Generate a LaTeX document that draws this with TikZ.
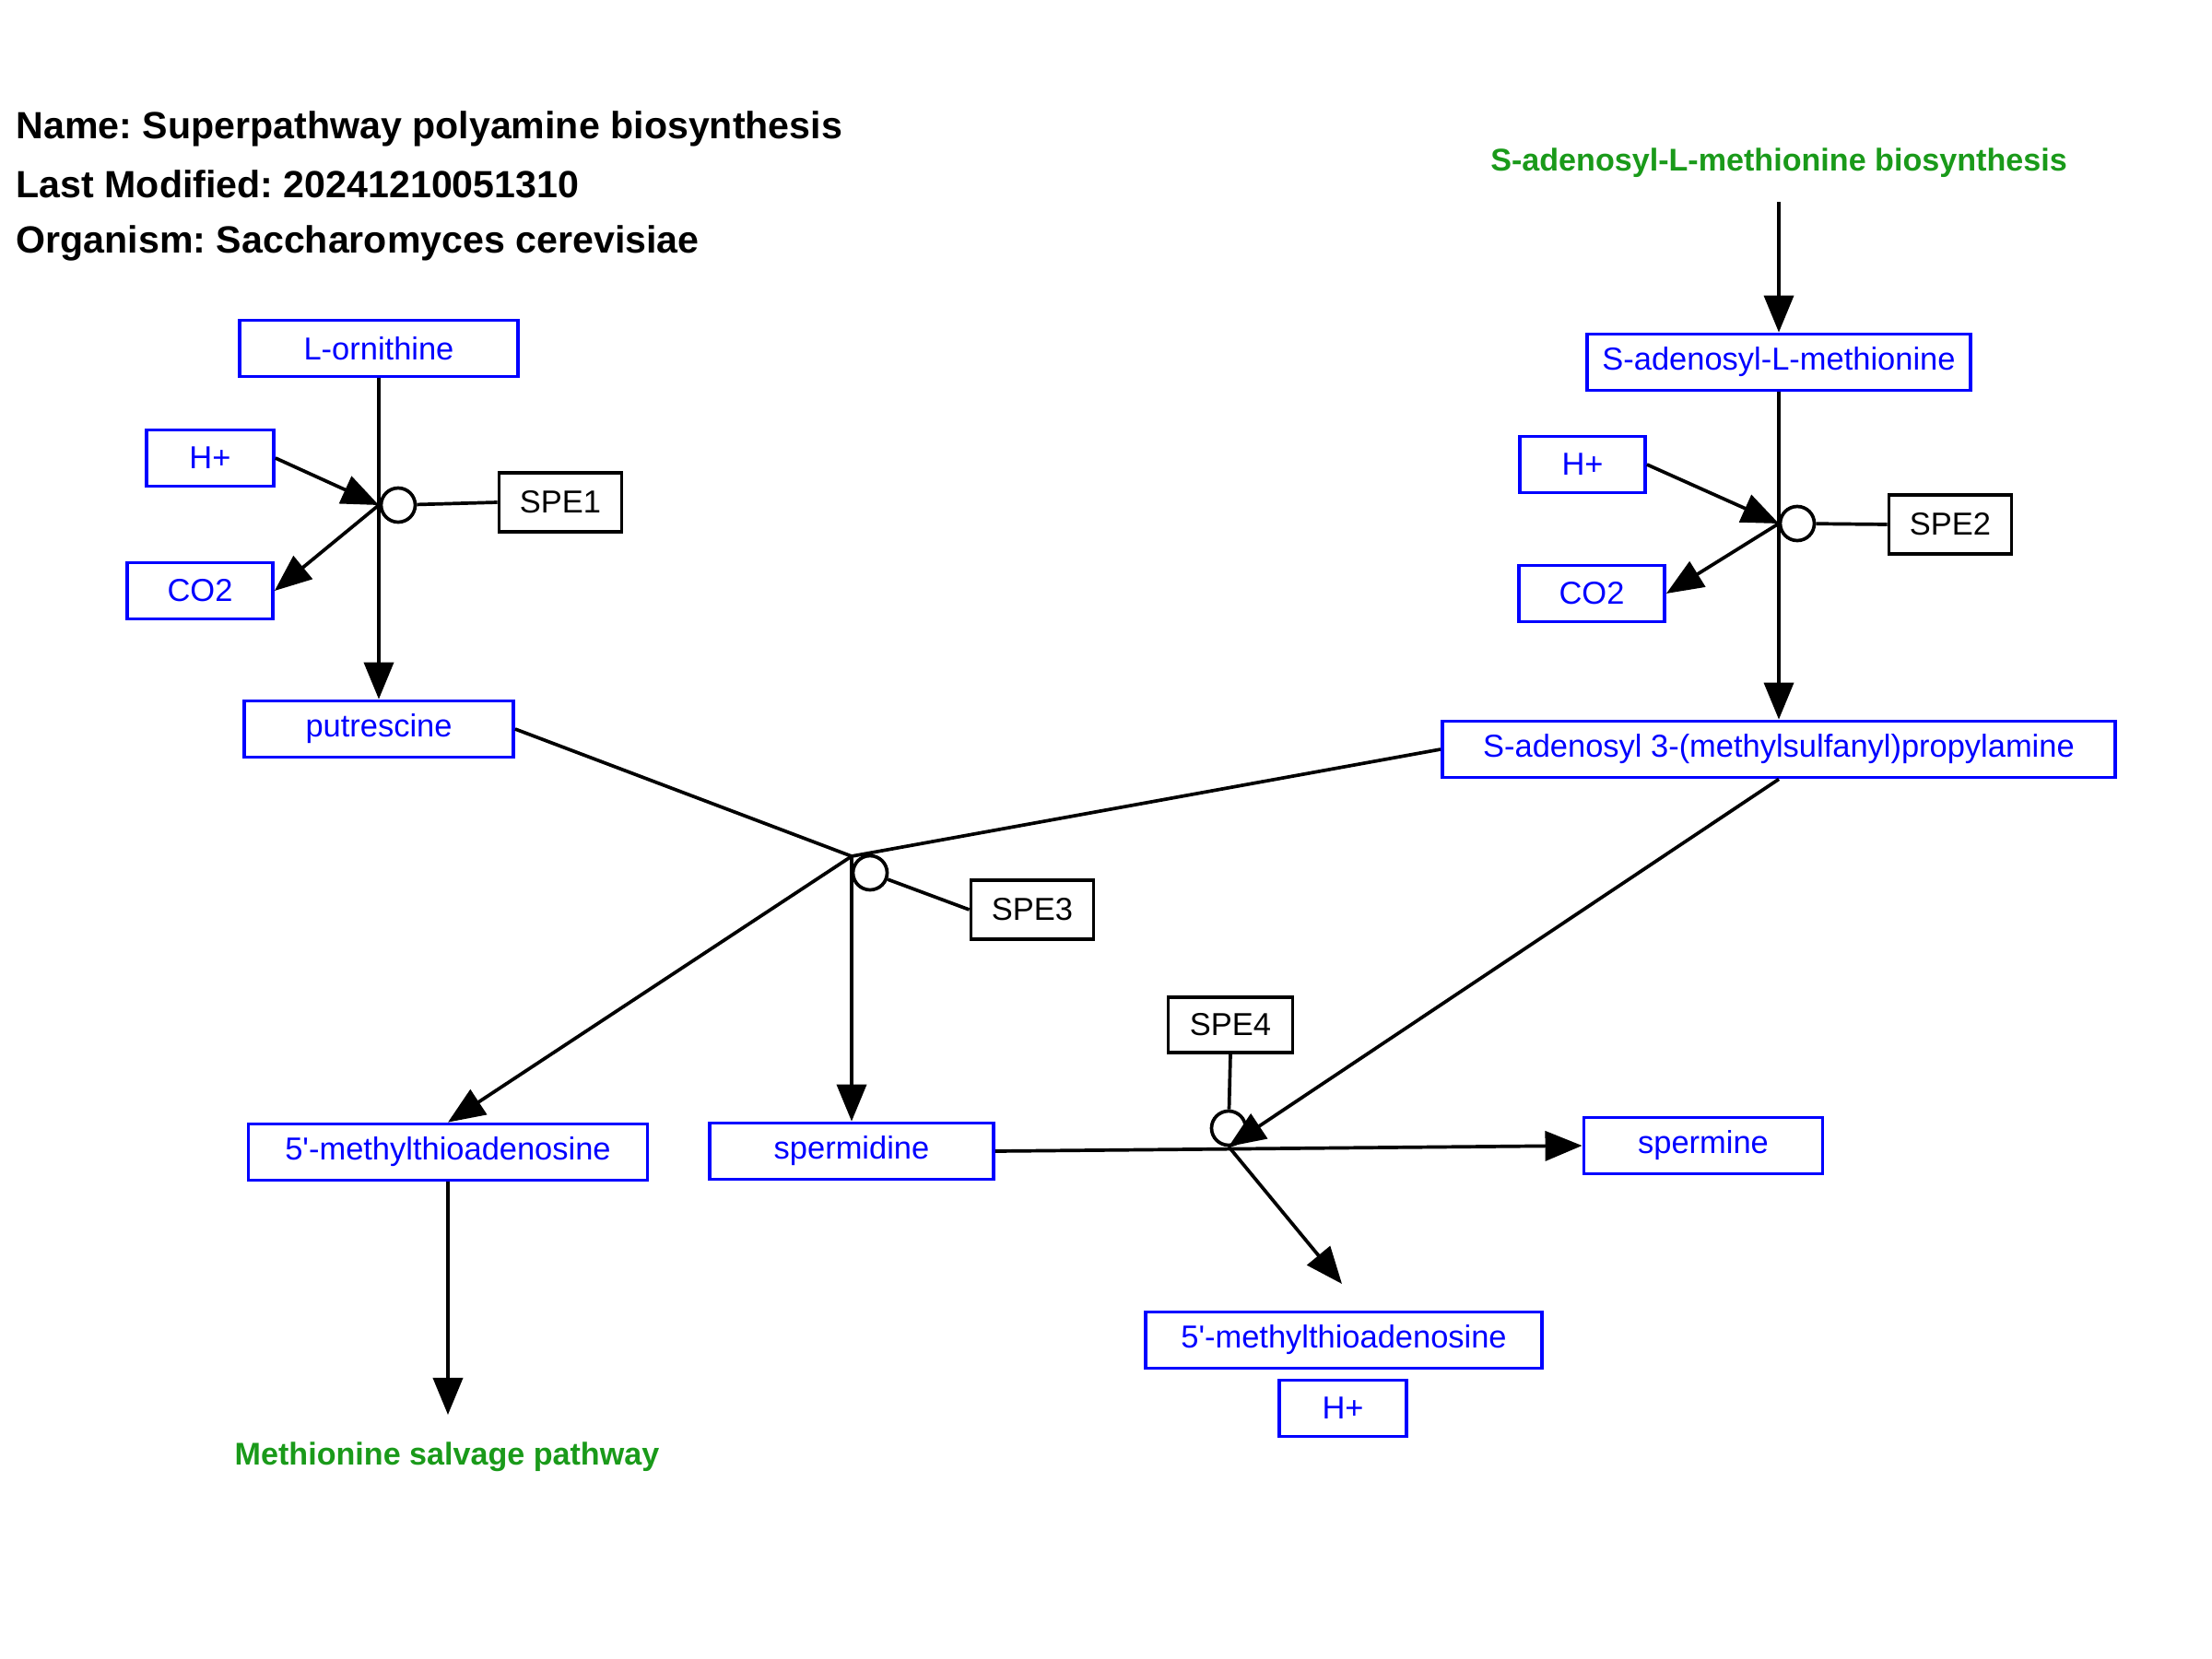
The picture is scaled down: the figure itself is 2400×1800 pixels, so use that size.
\documentclass[tikz,border=0pt]{standalone}
\usepackage{fontspec}
\setmainfont{Liberation Sans}
\usetikzlibrary{positioning,arrows.meta}
\definecolor{MetBlue}{HTML}{0000FF}
\definecolor{PathGreen}{HTML}{1A9A1A}
\frenchspacing
\tikzset{
  metnode/.style={draw=MetBlue,line width=0.037cm,text=MetBlue,
    minimum height=0.61cm,inner sep=0pt,
    font=\fontsize{9.8}{11}\selectfont},
  genenode/.style={draw=black,line width=0.037cm,
    minimum width=1.33cm,minimum height=0.64cm,inner sep=0pt,
    font=\fontsize{9.8}{11}\selectfont},
  anchornode/.style={draw=black,circle,line width=0.037cm,
    minimum size=0.37cm,inner sep=0pt},
  pathlabel/.style={text=PathGreen,inner sep=0pt,
    font=\fontsize{9.7}{11}\selectfont\bfseries},
  infolabel/.style={anchor=west,inner sep=0pt,
    font=\fontsize{11.7}{14}\selectfont\bfseries},
  edgeC/.style={line width=0.037cm,-{Triangle[length=0.40cm,width=0.32cm]}},
  edgeP/.style={line width=0.037cm},
}
\begin{document}
\begin{tikzpicture}[x=0.01cm,y=-0.01cm]
  \useasboundingbox (0,0) rectangle (2400,1800);
  \node[infolabel] (name) at (17,140) {Name: Superpathway polyamine biosynthesis};
  \node[infolabel] (modif) at (17,200) {Last Modified: 20241210051310};
  \node[infolabel] (organ) at (17,264) {Organism: Saccharomyces cerevisiae};
  \node[pathlabel] (sambio) at (1930,177) {S-adenosyl-L-methionine biosynthesis};
  \node[pathlabel] (salv) at (485,1581) {Methionine salvage pathway};
  \node[metnode,minimum width=3.02cm] (orn) at (411,378) {L-ornithine};
  \node[metnode,minimum width=1.38cm] (hp1) at (228,497) {H+};
  \node[metnode,minimum width=1.58cm] (co21) at (217,641) {CO2};
  \node[genenode] (spe1) at (608,545) {SPE1};
  \node[anchornode] (c1) at (432,548) {};
  \node[metnode,minimum width=2.92cm] (put) at (411,791) {putrescine};
  \node[metnode,minimum width=4.16cm] (sam) at (1930,393) {S-adenosyl-L-methionine};
  \node[metnode,minimum width=1.36cm] (hp2) at (1717,504) {H+};
  \node[metnode,minimum width=1.58cm] (co22) at (1727,644) {CO2};
  \node[genenode] (spe2) at (2116,569) {SPE2};
  \node[anchornode] (c2) at (1950,568) {};
  \node[metnode,minimum width=7.30cm] (sap) at (1930,813) {S-adenosyl 3-(methylsulfanyl)propylamine};
  \node[anchornode] (c3) at (944,947) {};
  \node[genenode] (spe3) at (1120,987) {SPE3};
  \node[metnode,minimum width=4.33cm] (mta1) at (486,1250) {5\textquotesingle-methylthioadenosine};
  \node[metnode,minimum width=3.08cm] (sperd) at (924,1249) {spermidine};
  \node[genenode,minimum width=1.35cm,minimum height=0.60cm] (spe4) at (1335,1112) {SPE4};
  \node[anchornode] (c4) at (1333,1224) {};
  \node[metnode,minimum width=2.59cm] (spm) at (1848,1243) {spermine};
  \node[metnode,minimum width=4.30cm] (mta2) at (1458,1454) {5\textquotesingle-methylthioadenosine};
  \node[metnode,minimum width=1.38cm] (hp3) at (1457,1528) {H+};
  \coordinate (j1) at (411,548);
  \coordinate (j2) at (1930,568);
  \coordinate (j3) at (924,929);
  \coordinate (j4) at (1333,1244);
  \coordinate (sambtm) at (1930,219);
  \coordinate (mtaend) at (1456,1393);
  \coordinate (salvend) at (486,1535);
  \draw[edgeC] (orn.south) -- (put.north);
  \draw[edgeC] (hp1.east) -- (j1);
  \draw[edgeC] (j1) -- (co21.east);
  \draw[edgeP] (spe1.west) -- (c1);
  \draw[edgeC] (sambtm) -- (sam.north);
  \draw[edgeC] (sam.south) -- (sap.north);
  \draw[edgeC] (hp2.east) -- (j2);
  \draw[edgeC] (j2) -- (co22.east);
  \draw[edgeP] (spe2.west) -- (c2);
  \draw[edgeP] (put.east) -- (j3);
  \draw[edgeP] (sap.west) -- (j3);
  \draw[edgeC] (j3) -- (sperd.north);
  \draw[edgeC] (j3) -- (mta1.north);
  \draw[edgeP] (spe3.west) -- (c3);
  \draw[edgeC] (sperd.east) -- (spm.west);
  \draw[edgeC] (sap.south) -- (j4);
  \draw[edgeC] (j4) -- (mtaend);
  \draw[edgeP] (spe4.south) -- (c4);
  \draw[edgeC] (mta1.south) -- (salvend);
\end{tikzpicture}
\end{document}
